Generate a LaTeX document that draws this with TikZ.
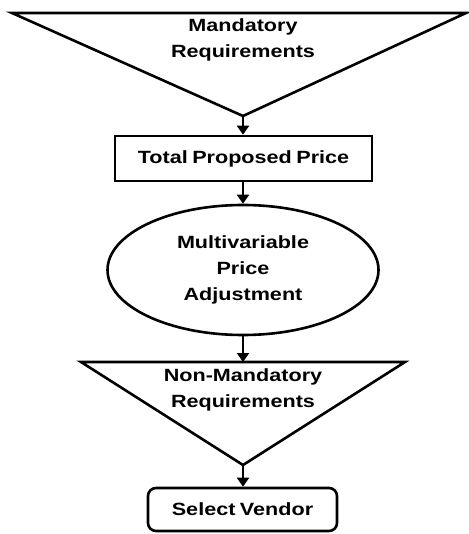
\documentclass[tikz,border=0pt]{standalone}
\usepackage{fontspec}
\setmainfont{Liberation Sans}[FakeStretch=1.22]
\usetikzlibrary{arrows.meta,shapes.geometric}
\begin{document}
\begin{tikzpicture}[x=1pt,y=-1pt,
  shapeline/.style={line width=2.6pt,line join=miter},
  lbl/.style={font=\bfseries\fontsize{17.7}{26}\selectfont,align=center,inner sep=0pt},
  conn/.style={line width=2pt,-{Triangle[length=9pt,width=12pt]}},
  boxnode/.style={draw,shapeline,lbl,minimum width=257pt,minimum height=45pt}]
\useasboundingbox (0,0) rectangle (468,534);
% top triangle
\coordinate (t1l) at (12,13);
\coordinate (t1r) at (466,13);
\coordinate (t1a) at (243,116);
\draw[shapeline] (t1l) -- (t1r) -- (t1a) -- cycle;
\node[lbl] (t1txt) at (243,40) {Mandatory\\Requirements};
% box
\node[boxnode] (box1) at (243.5,158.5) {Total\hspace{-1.5pt} Proposed\hspace{-1.5pt} Price};
% ellipse
\node[draw,shapeline,lbl,ellipse,minimum width=271pt,minimum height=130pt,inner sep=0pt] (ell) at (243,270) {Multivariable\\Price\\Adjustment};
% second triangle
\coordinate (t2l) at (81,362);
\coordinate (t2r) at (405,362);
\coordinate (t2a) at (243,465);
\draw[shapeline] (t2l) -- (t2r) -- (t2a) -- cycle;
\node[lbl] (t2txt) at (243,389.5) {Non-Mandatory\\Requirements};
% final box
\node[draw,shapeline,lbl,rounded corners=8pt,minimum width=189pt,minimum height=43pt] (sel) at (242.5,509.5) {Select\hspace{-1.5pt} Vendor};
% connectors
\coordinate (box1top) at (box1.north -| t1a);
\draw[conn] (t1a) -- (box1top);
\draw[conn] (box1.south -| ell.north) -- (ell.north);
\coordinate (t2top) at (ell.south |- t2l);
\draw[conn] (ell.south) -- (t2top);
\draw[conn] (t2a) -- (sel.north -| t2a);
\end{tikzpicture}
\end{document}
